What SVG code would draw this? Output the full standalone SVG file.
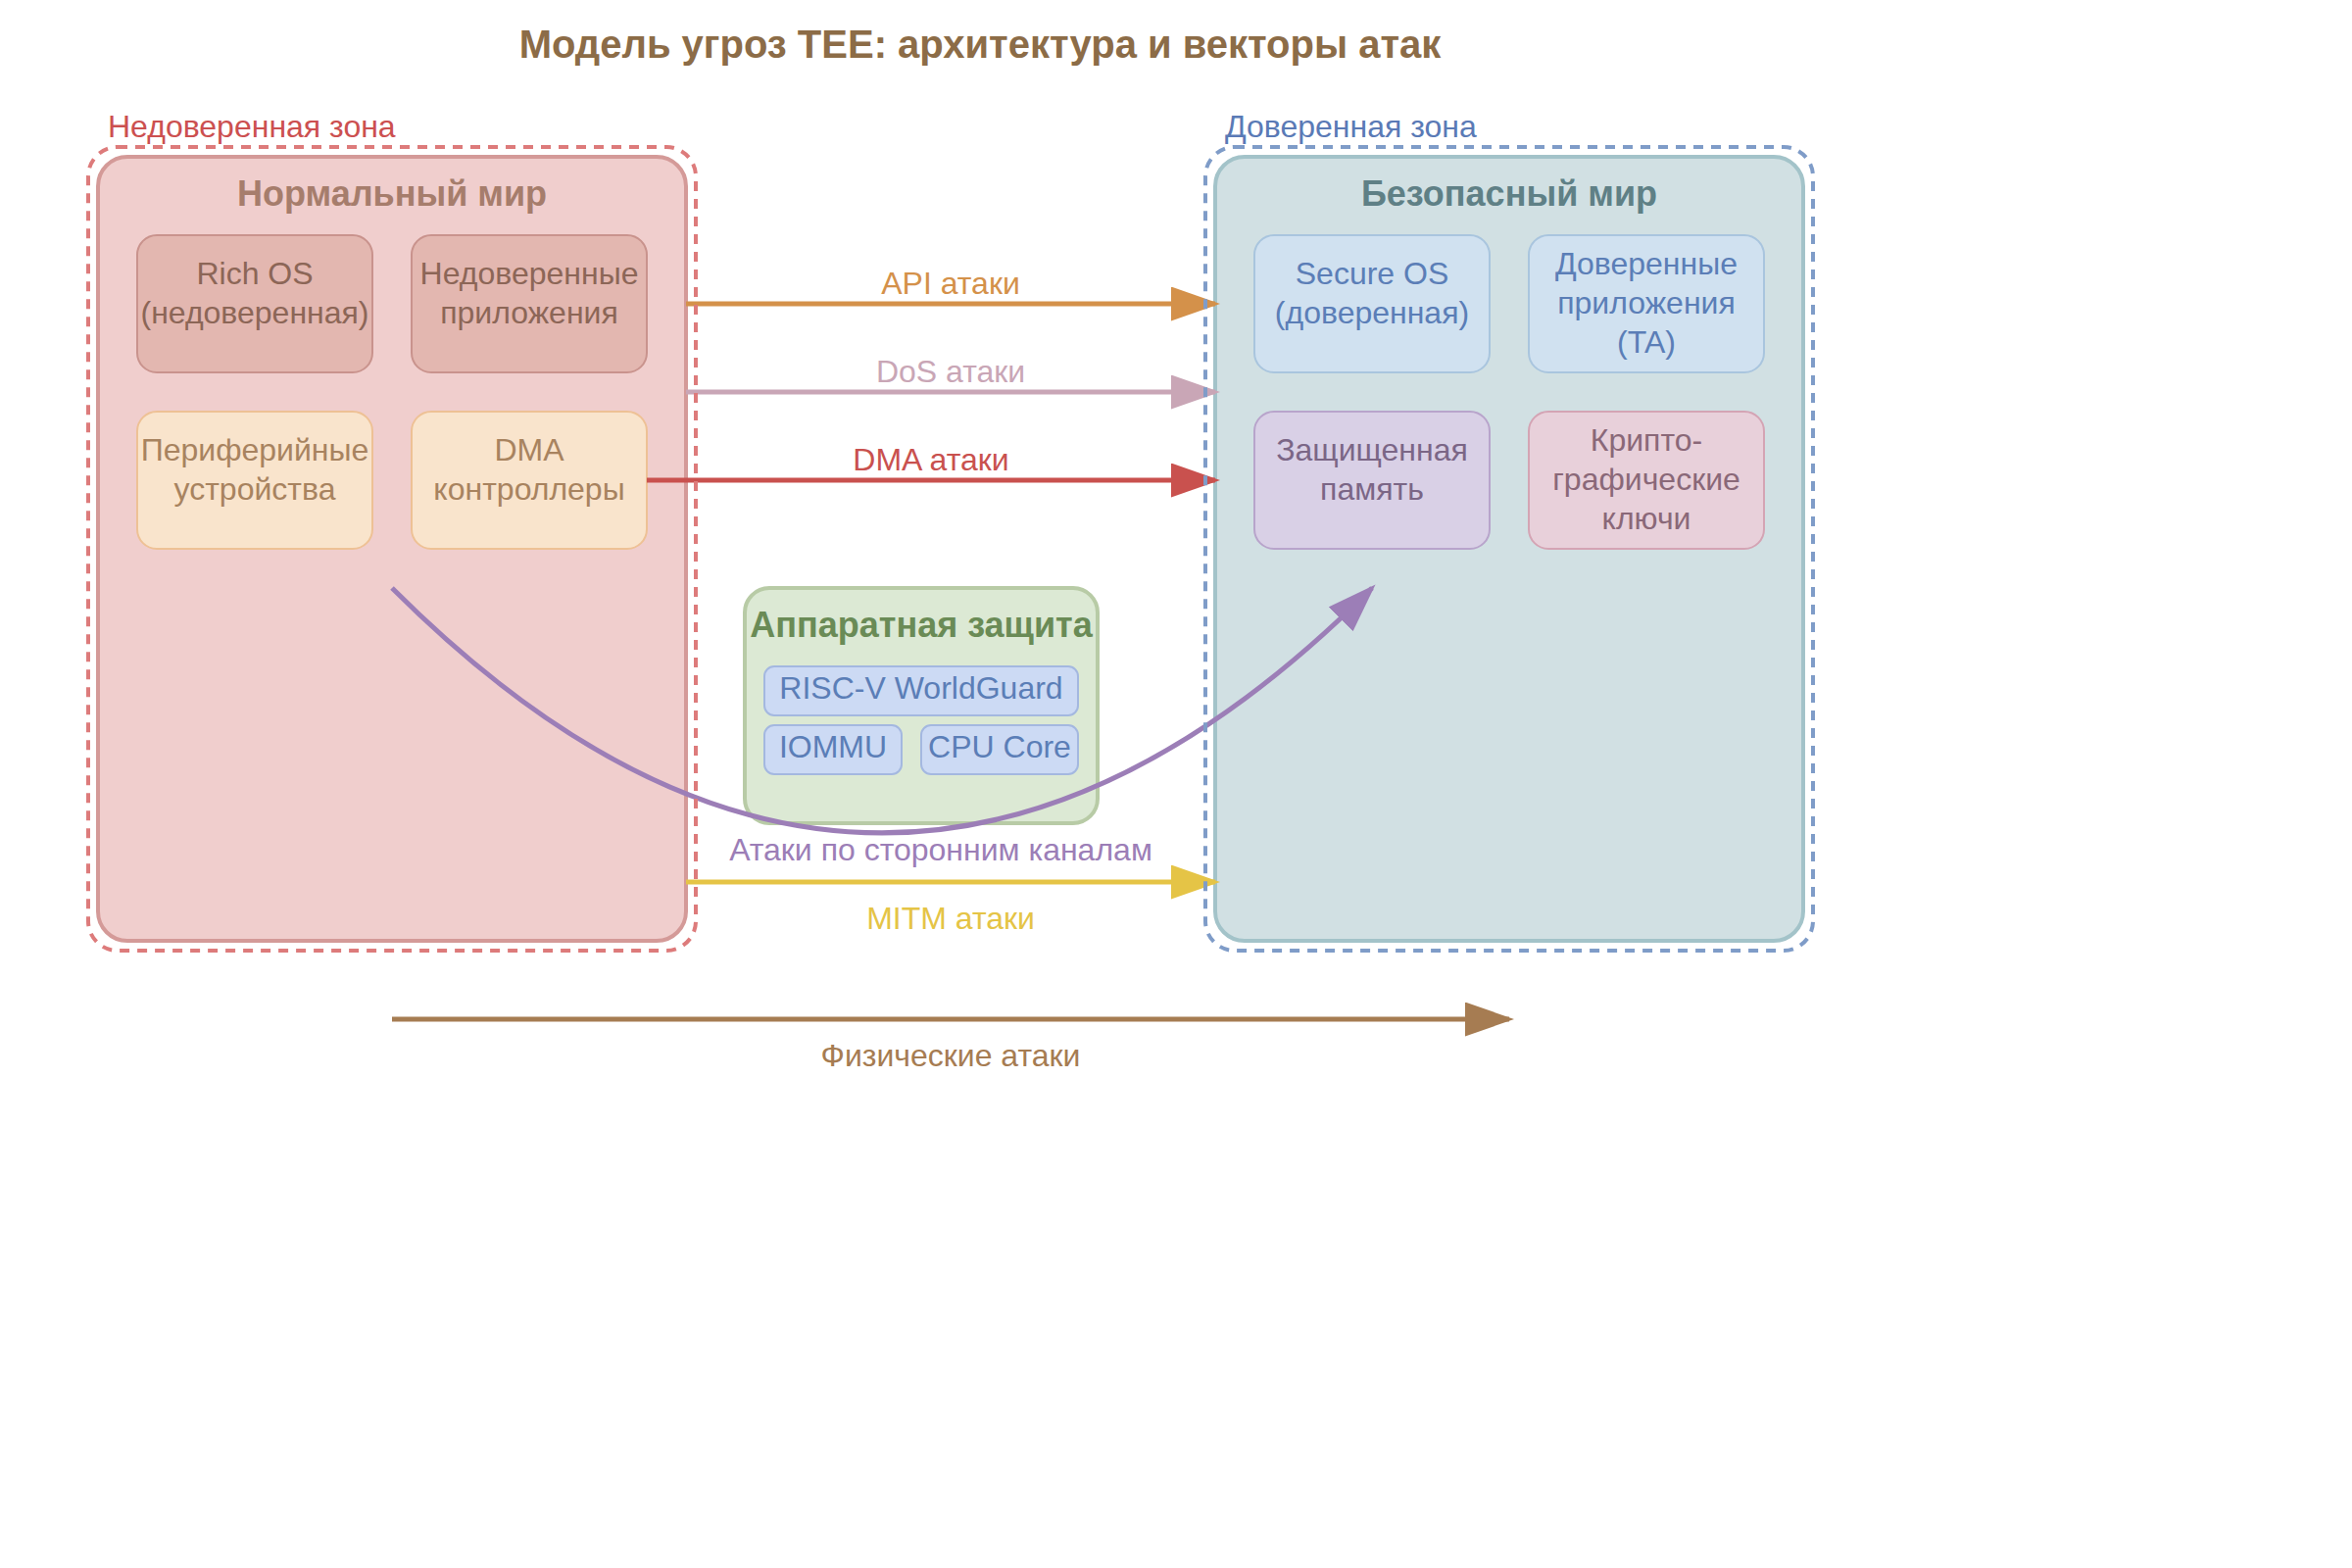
<svg xmlns="http://www.w3.org/2000/svg" width="2400" height="1600" viewBox="0 0 2400 1600">
<style>
text{font-family:"Liberation Sans",Arial,sans-serif;}
.t{font-size:32px;text-anchor:middle;}
.h{font-size:36px;font-weight:bold;text-anchor:middle;}
.zone{fill:none;stroke-width:4;stroke-dasharray:10,8;}
.big{stroke-width:4;}
.sm{stroke-width:2;}
.conn{fill:none;stroke-width:5;}
</style>
<defs>
<marker id="aApi" markerWidth="10" markerHeight="7" refX="9" refY="3.5" orient="auto"><polygon points="0 0,10 3.5,0 7" fill="#d4914a"/></marker>
<marker id="aDos" markerWidth="10" markerHeight="7" refX="9" refY="3.5" orient="auto"><polygon points="0 0,10 3.5,0 7" fill="#c9a6b6"/></marker>
<marker id="aDma" markerWidth="10" markerHeight="7" refX="9" refY="3.5" orient="auto"><polygon points="0 0,10 3.5,0 7" fill="#c9514e"/></marker>
<marker id="aSc" markerWidth="10" markerHeight="7" refX="9" refY="3.5" orient="auto"><polygon points="0 0,10 3.5,0 7" fill="#9c7eb7"/></marker>
<marker id="aMitm" markerWidth="10" markerHeight="7" refX="9" refY="3.5" orient="auto"><polygon points="0 0,10 3.5,0 7" fill="#e5c446"/></marker>
<marker id="aPhy" markerWidth="10" markerHeight="7" refX="9" refY="3.5" orient="auto"><polygon points="0 0,10 3.5,0 7" fill="#a67c52"/></marker>
</defs>
<rect width="2400" height="1600" fill="#ffffff"/>
<text x="1000" y="59" font-size="40" font-weight="bold" text-anchor="middle" fill="#8c6c47">Модель угроз TEE: архитектура и векторы атак</text>

<g id="normal-world">
<rect x="100" y="160" width="600" height="800" rx="30" fill="#f0cecd" stroke="#d49a98" class="big"/>
<text x="400" y="210" class="h" fill="#a67d6c">Нормальный мир</text>
</g>
<g id="rich-os">
<rect x="140" y="240" width="240" height="140" rx="20" fill="#e3b7b0" stroke="#c9938d" class="sm"/>
<text class="t" fill="#8c6657"><tspan x="260" y="290">Rich OS</tspan><tspan x="260" y="330">(недоверенная)</tspan></text>
</g>
<g id="untrusted-apps">
<rect x="420" y="240" width="240" height="140" rx="20" fill="#e3b7b0" stroke="#c9938d" class="sm"/>
<text class="t" fill="#8c6657"><tspan x="540" y="290">Недоверенные</tspan><tspan x="540" y="330">приложения</tspan></text>
</g>
<g id="peripherals">
<rect x="140" y="420" width="240" height="140" rx="20" fill="#f9e4cc" stroke="#eec195" class="sm"/>
<text class="t" fill="#a8835f"><tspan x="260" y="470">Периферийные</tspan><tspan x="260" y="510">устройства</tspan></text>
</g>
<g id="dma-controllers">
<rect x="420" y="420" width="240" height="140" rx="20" fill="#f9e4cc" stroke="#eec195" class="sm"/>
<text class="t" fill="#a8835f"><tspan x="540" y="470">DMA</tspan><tspan x="540" y="510">контроллеры</tspan></text>
</g>

<g id="secure-world">
<rect x="1240" y="160" width="600" height="800" rx="30" fill="#d1e0e3" stroke="#a3c3c9" class="big"/>
<text x="1540" y="210" class="h" fill="#5f8086">Безопасный мир</text>
</g>
<g id="secure-os">
<rect x="1280" y="240" width="240" height="140" rx="20" fill="#d0e1f0" stroke="#a9c5de" class="sm"/>
<text class="t" fill="#5b7eb7"><tspan x="1400" y="290">Secure OS</tspan><tspan x="1400" y="330">(доверенная)</tspan></text>
</g>
<g id="trusted-apps">
<rect x="1560" y="240" width="240" height="140" rx="20" fill="#d0e1f0" stroke="#a9c5de" class="sm"/>
<text class="t" fill="#5b7eb7"><tspan x="1680" y="280">Доверенные</tspan><tspan x="1680" y="320">приложения</tspan><tspan x="1680" y="360">(TA)</tspan></text>
</g>
<g id="secure-memory">
<rect x="1280" y="420" width="240" height="140" rx="20" fill="#d9d0e6" stroke="#b8a4cb" class="sm"/>
<text class="t" fill="#7b6686"><tspan x="1400" y="470">Защищенная</tspan><tspan x="1400" y="510">память</tspan></text>
</g>
<g id="crypto-keys">
<rect x="1560" y="420" width="240" height="140" rx="20" fill="#e8d0da" stroke="#d4a4b4" class="sm"/>
<text class="t" fill="#8a6878"><tspan x="1680" y="460">Крипто-</tspan><tspan x="1680" y="500">графические</tspan><tspan x="1680" y="540">ключи</tspan></text>
</g>

<g id="hardware-protection">
<rect x="760" y="600" width="360" height="240" rx="25" fill="#dce9d4" stroke="#b8cba6" class="big"/>
<text x="940" y="650" class="h" fill="#6a8b56">Аппаратная защита</text>
</g>
<g id="worldguard">
<rect x="780" y="680" width="320" height="50" rx="10" fill="#ccdaf4" stroke="#a4b8e0" class="sm"/>
<text x="940" y="713" class="t" fill="#5b7eb7">RISC-V WorldGuard</text>
</g>
<g id="iommu">
<rect x="780" y="740" width="140" height="50" rx="10" fill="#ccdaf4" stroke="#a4b8e0" class="sm"/>
<text x="850" y="773" class="t" fill="#5b7eb7">IOMMU</text>
</g>
<g id="cpu-core">
<rect x="940" y="740" width="160" height="50" rx="10" fill="#ccdaf4" stroke="#a4b8e0" class="sm"/>
<text x="1020" y="773" class="t" fill="#5b7eb7">CPU Core</text>
</g>

<g id="connectors">
<line x1="700" y1="310" x2="1240" y2="310" class="conn" stroke="#d4914a" marker-end="url(#aApi)"/>
<text x="970" y="300" class="t" fill="#d4914a">API атаки</text>
<line x1="700" y1="400" x2="1240" y2="400" class="conn" stroke="#c9a6b6" marker-end="url(#aDos)"/>
<text x="970" y="390" class="t" fill="#c9a6b6">DoS атаки</text>
<line x1="660" y1="490" x2="1240" y2="490" class="conn" stroke="#c9514e" marker-end="url(#aDma)"/>
<text x="950" y="480" class="t" fill="#c9514e">DMA атаки</text>
<path d="M400,600 Q900,1100 1400,600" class="conn" stroke="#9c7eb7" marker-end="url(#aSc)"/>
<text x="960" y="878" class="t" fill="#9c7eb7">Атаки по сторонним каналам</text>
<line x1="700" y1="900" x2="1240" y2="900" class="conn" stroke="#e5c446" marker-end="url(#aMitm)"/>
<text x="970" y="948" class="t" fill="#e5c446">MITM атаки</text>
<line x1="400" y1="1040" x2="1540" y2="1040" class="conn" stroke="#a67c52" marker-end="url(#aPhy)"/>
<text x="970" y="1088" class="t" fill="#a67c52">Физические атаки</text>
</g>

<g id="untrusted-zone">
<rect x="90" y="150" width="620" height="820" rx="30" class="zone" stroke="#dd7b7b"/>
<text x="110" y="140" font-size="32" fill="#cc5050">Недоверенная зона</text>
</g>
<g id="trusted-zone">
<rect x="1230" y="150" width="620" height="820" rx="30" class="zone" stroke="#7f9cc8"/>
<text x="1250" y="140" font-size="32" fill="#5a7ab6">Доверенная зона</text>
</g>
</svg>
